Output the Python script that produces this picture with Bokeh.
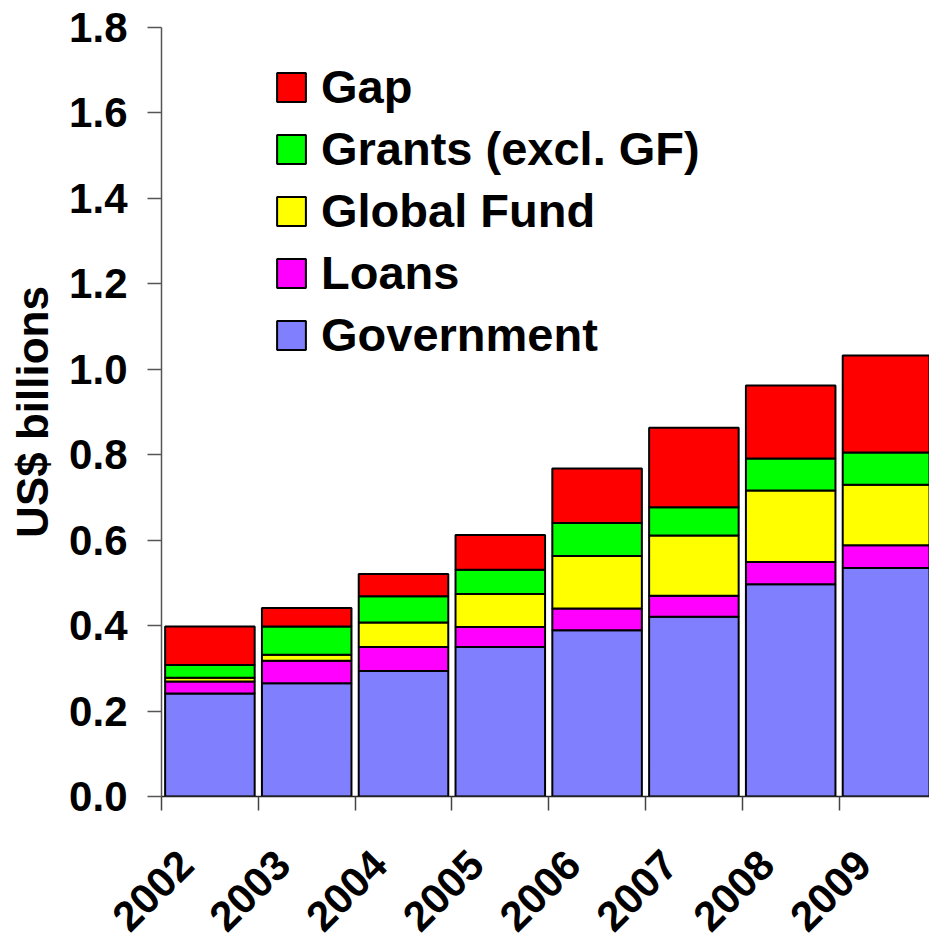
from math import pi
from bokeh.plotting import figure
from bokeh.layouts import column
from bokeh.models import (Range1d, FixedTicker, Legend, LegendItem, ColumnDataSource,
                          PrintfTickFormatter)
from bokeh.embed import file_html
from bokeh.resources import INLINE

# ---- data (US$ billions) ----
years       = ["2002", "2003", "2004", "2005", "2006", "2007", "2008", "2009"]
government  = [0.241, 0.265, 0.294, 0.350, 0.389, 0.421, 0.497, 0.535]
loans       = [0.028, 0.053, 0.056, 0.047, 0.051, 0.049, 0.052, 0.053]
global_fund = [0.009, 0.014, 0.057, 0.077, 0.123, 0.141, 0.167, 0.142]
grants      = [0.030, 0.066, 0.062, 0.057, 0.077, 0.066, 0.075, 0.075]
gap         = [0.090, 0.043, 0.052, 0.081, 0.128, 0.186, 0.171, 0.227]
y_ticks     = [0.0, 0.2, 0.4, 0.6, 0.8, 1.0, 1.2, 1.4, 1.6, 1.8]

series_keys   = ["government", "loans", "global_fund", "grants", "gap"]
series_labels = ["Government", "Loans", "Global Fund", "Grants (excl. GF)", "Gap"]
series_colors = ["#8080FF", "#FF00FF", "#FFFF00", "#00FF00", "#FF0000"]

FONT = "Liberation Sans"

# ---- layout constants ----
W, H = 929, 939
LEFT, TOP, MAIN_H = 161, 27, 830
FRAME_BOTTOM = 796
X_END = 7.934

x_centers = [i + 0.5 for i in range(len(years))]
boundaries = list(range(len(years) + 1))
src = ColumnDataSource(dict(x=x_centers, year=years, government=government, loans=loans,
                            global_fund=global_fund, grants=grants, gap=gap))

p = figure(width=W, height=MAIN_H, x_range=Range1d(0, X_END), y_range=Range1d(0, 1.8),
           output_backend="svg", toolbar_location=None,
           min_border_left=LEFT, min_border_right=0, min_border_top=TOP,
           min_border_bottom=MAIN_H - FRAME_BOTTOM)
p.frame_align = False
p.outline_line_color = None
p.xgrid.visible = False
p.ygrid.visible = False

renderers = p.vbar_stack(series_keys, x="x", width=0.925, source=src,
                         fill_color=series_colors, line_color="black", line_width=2)

# y axis
yax = p.yaxis[0]
yax.ticker = FixedTicker(ticks=y_ticks)
yax.formatter = PrintfTickFormatter(format="%.1f")
yax.major_label_text_font = FONT
yax.major_label_text_font_size = "42px"
yax.major_label_text_font_style = "bold"
yax.major_label_text_color = "black"
yax.major_label_standoff = 20
yax.major_tick_out = 14
yax.major_tick_in = 0
yax.minor_tick_line_color = None
yax.axis_line_color = "#555555"
yax.axis_line_width = 1.5
yax.major_tick_line_color = "#555555"
yax.major_tick_line_width = 1.5
yax.axis_label = "US$ billions"
yax.axis_label_text_font = FONT
yax.axis_label_text_font_size = "44px"
yax.axis_label_text_font_style = "bold"
yax.axis_label_text_color = "black"
yax.axis_label_standoff = 9

# x axis: tick marks at category boundaries (labels drawn in strip below)
xax = p.xaxis[0]
xax.ticker = FixedTicker(ticks=boundaries)
xax.major_label_overrides = {b: "" for b in boundaries}
xax.major_label_text_font_size = "1px"
xax.major_label_standoff = 0
xax.major_tick_out = 14
xax.major_tick_in = 0
xax.minor_tick_line_color = None
xax.axis_line_color = "#222222"
xax.axis_line_width = 1.5
xax.major_tick_line_color = "#444444"
xax.major_tick_line_width = 1.5

items = [LegendItem(label=lab, renderers=[r])
         for lab, r in reversed(list(zip(series_labels, renderers)))]
legend = Legend(items=items, location=(112, 434), padding=0, margin=0, spacing=7,
                glyph_width=36, glyph_height=36, label_standoff=12,
                label_text_font=FONT, label_text_font_size="47px",
                label_text_font_style="bold", label_text_color="black",
                border_line_color=None, background_fill_alpha=0)
p.add_layout(legend)

# ---- strip with rotated year labels, using the same pixel scale as the main chart ----
px_per_unit = (W - LEFT) / X_END
lab = figure(width=W, height=H - MAIN_H, x_range=Range1d(-LEFT / px_per_unit, X_END),
             y_range=Range1d(0, 1), output_backend="svg", toolbar_location=None,
             x_axis_type=None, y_axis_type=None, min_border=0)
lab.frame_align = False
lab.min_border_left = lab.min_border_right = lab.min_border_top = lab.min_border_bottom = 0
lab.outline_line_color = None
lab.xgrid.visible = False
lab.ygrid.visible = False
lab.text(x="x", y=1, text="year", source=src, angle=pi / 4,
         text_align="right", text_baseline="middle",
         x_offset=-24, y_offset=857 - MAIN_H,
         text_font={"value": FONT}, text_font_size="42px", text_font_style="bold",
         text_color="black")

layout = column(p, lab, spacing=0)
open("out.html", "w").write(file_html(layout, INLINE))
